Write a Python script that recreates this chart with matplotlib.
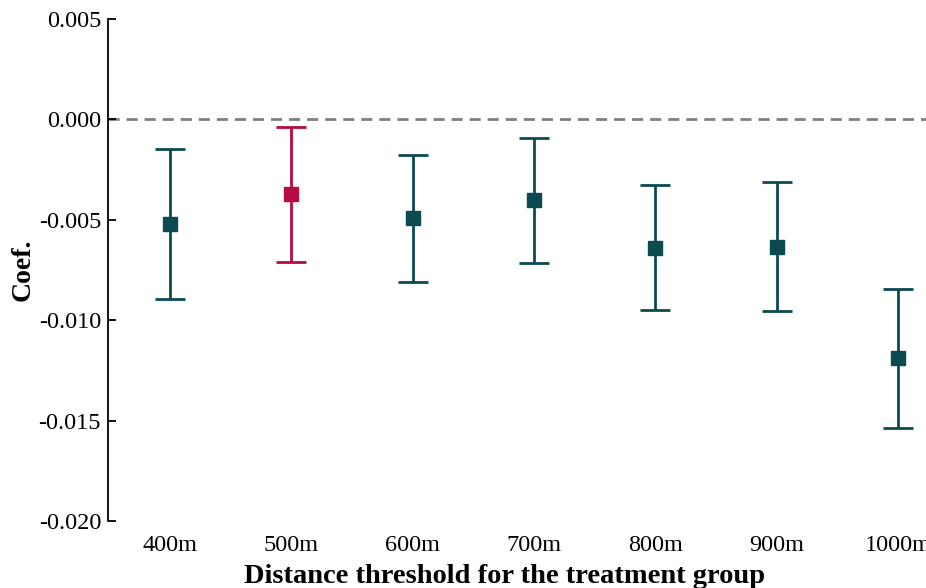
import matplotlib
matplotlib.use("Agg")
import matplotlib.pyplot as plt

# data
labels = ["400m", "500m", "600m", "700m", "800m", "900m", "1000m"]
coef = [-0.00522, -0.00373, -0.00493, -0.00403, -0.00642, -0.00637, -0.01189]
upper = [-0.00149, -0.00040, -0.00179, -0.00095, -0.00328, -0.00313, -0.00846]
lower = [-0.00896, -0.00711, -0.00811, -0.00716, -0.00950, -0.00955, -0.01537]
highlight = "500m"

teal = "#0c4a52"
red = "#b50a42"

plt.rcParams["font.family"] = ["Liberation Serif", "DejaVu Serif"]

fig = plt.figure(figsize=(9.26, 5.88), dpi=100)
ax = fig.add_axes([0.1166, 0.114, 0.8834, 0.854])

ax.axhline(0, color="#808080", linestyle=(0, (4, 2.5)), linewidth=2, zorder=1)

for i, lab in enumerate(labels):
    c = red if lab == highlight else teal
    err = [[coef[i] - lower[i]], [upper[i] - coef[i]]]
    ax.errorbar(i, coef[i], yerr=err, fmt="s", color=c, ecolor=c,
                elinewidth=2, capsize=10.5, capthick=2, markersize=10,
                zorder=3)

ax.set_xlim(-0.51, 6.23)
ax.set_ylim(-0.020, 0.005)
ax.set_yticks([-0.020, -0.015, -0.010, -0.005, 0.000, 0.005])
ax.set_yticklabels(["-0.020", "-0.015", "-0.010", "-0.005", "0.000", "0.005"])
ax.set_xticks(range(len(labels)))
ax.set_xticklabels(labels)

for s in ["top", "right", "bottom"]:
    ax.spines[s].set_visible(False)
ax.spines["left"].set_linewidth(1.3)
ax.tick_params(axis="y", direction="in", length=6, width=1.3, labelsize=17.5, pad=5)
ax.tick_params(axis="x", length=0, labelsize=17.5, pad=10)

ax.set_ylabel("Coef.", fontsize=20, fontweight="bold", labelpad=2)
ax.set_xlabel("Distance threshold for the treatment group", fontsize=20.5,
              fontweight="bold", labelpad=6)
ax.xaxis.set_label_coords(0.485, -0.085)

fig.savefig("out.png", dpi=100)
